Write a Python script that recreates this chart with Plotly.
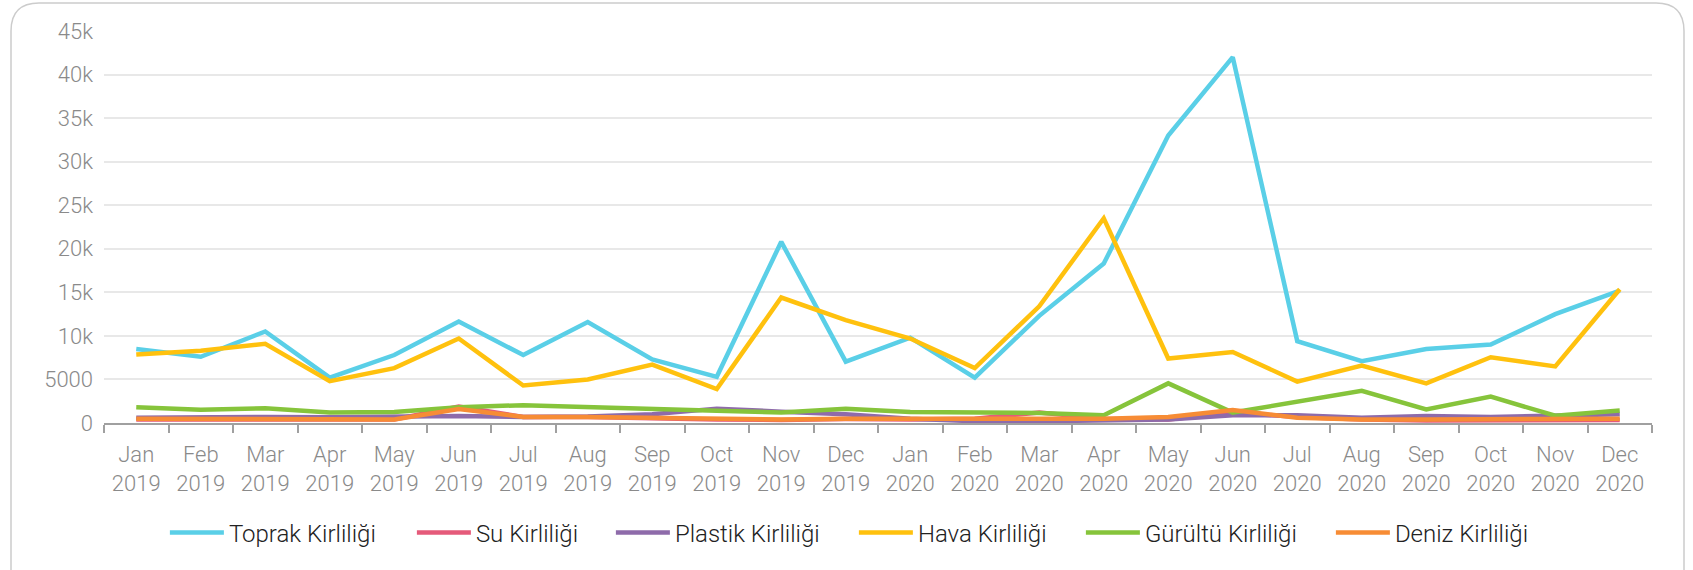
import plotly.graph_objects as go

months = ["Jan", "Feb", "Mar", "Apr", "May", "Jun", "Jul", "Aug", "Sep", "Oct", "Nov", "Dec"]
categories = [f"{m}<br>{y}" for y in ("2019", "2020") for m in months]

toprak = [8500, 7600, 10500, 5200, 7800, 11650, 7800, 11600, 7300, 5300, 20800, 7050,
          9800, 5200, 12300, 18300, 33000, 42000, 9400, 7100, 8500, 9000, 12500, 15200]
su = [400, 400, 400, 350, 400, 1900, 700, 700, 500, 400, 350, 450,
      400, 500, 1200, 500, 400, 1200, 700, 400, 300, 350, 400, 350]
plastik = [600, 700, 700, 650, 700, 800, 700, 750, 1000, 1650, 1300, 1000,
           500, 200, 200, 300, 400, 900, 900, 600, 800, 700, 900, 1000]
hava = [7850, 8300, 9100, 4800, 6300, 9700, 4300, 5000, 6700, 3900, 14400, 11800,
        9700, 6300, 13400, 23500, 7400, 8150, 4750, 6600, 4550, 7550, 6500, 15350]
gurultu = [1820, 1520, 1700, 1200, 1250, 1800, 2050, 1800, 1600, 1400, 1200, 1650,
           1250, 1250, 1150, 900, 4550, 1200, 2400, 3700, 1550, 3030, 830, 1440]
deniz = [500, 500, 500, 400, 400, 1600, 700, 700, 600, 600, 400, 500,
         500, 400, 500, 500, 700, 1500, 600, 400, 400, 450, 450, 500]

series = [
    ("Toprak Kirliliği", toprak, "#5ACFE7", 178),
    ("Su Kirliliği", su, "#E55A7A", 130),
    ("Plastik Kirliliği", plastik, "#8E6BAA", 174),
    ("Hava Kirliliği", hava, "#FFC10E", 158),
    ("Gürültü Kirliliği", gurultu, "#86C43B", 181),
    ("Deniz Kirliliği", deniz, "#F78C35", 135),
]

y_tickvals = [0, 5000, 10000, 15000, 20000, 25000, 30000, 35000, 40000, 45000]
y_ticktext = ["0", "5000", "10k", "15k", "20k", "25k", "30k", "35k", "40k", "45k"]

W, H = 1693, 570
L, R, T, B = 104, 41, 31, 147

fig = go.Figure()
for name, vals, color, lw in series:
    fig.add_trace(go.Scatter(x=categories, y=vals, name=name, mode="lines",
                             line=dict(color=color, width=4.5), legendwidth=lw))

# rounded card border (in paper coords)
pw, ph = W - L - R, H - T - B
def px(x):
    return (x - L) / pw
def py(y):
    return (H - B - y) / ph
x0, x1, y0, yb, r = 11, 1684, 3, 620, 28
path = (f"M{px(x0)},{py(yb)} L{px(x0)},{py(y0 + r)} "
        f"Q{px(x0)},{py(y0)} {px(x0 + r)},{py(y0)} "
        f"L{px(x1 - r)},{py(y0)} Q{px(x1)},{py(y0)} {px(x1)},{py(y0 + r)} "
        f"L{px(x1)},{py(yb)}")

fig.update_layout(
    width=W, height=H,
    margin=dict(l=L, r=R, t=T, b=B, autoexpand=False),
    paper_bgcolor="white", plot_bgcolor="white",
    font=dict(family="Roboto", color="#8a8a8a", size=22, weight=300),
    showlegend=True,
    legend=dict(orientation="h", x=0.502, xref="container", xanchor="center",
                y=(H - 533) / H, yref="container", yanchor="middle",
                font=dict(size=24, color="#222222", weight=300),
                itemwidth=54, traceorder="normal"),
    shapes=[dict(type="path", path=path, xref="paper", yref="paper",
                 line=dict(color="#cccccc", width=1.5), layer="below")],
    xaxis=dict(showgrid=False, showline=True, linecolor="#a0a0a0", linewidth=1.5,
               range=[-0.5, 23.5],
               ticks="outside", tickson="boundaries", ticklen=8, tickcolor="#a0a0a0",
               tickwidth=1.5, ticklabelstandoff=11,
               tickfont=dict(size=22, color="#8a8a8a"), fixedrange=True),
    yaxis=dict(range=[0, 45000], tickvals=y_tickvals, ticktext=y_ticktext,
               showgrid=True, gridcolor="#e8e8e8", gridwidth=1.5, zeroline=False,
               showline=False, ticks="", ticklabelstandoff=10,
               tickfont=dict(size=22, color="#8a8a8a"), fixedrange=True),
)

fig.write_html("out.html", config={"displayModeBar": False},
               post_script="document.body.style.margin='0';")
